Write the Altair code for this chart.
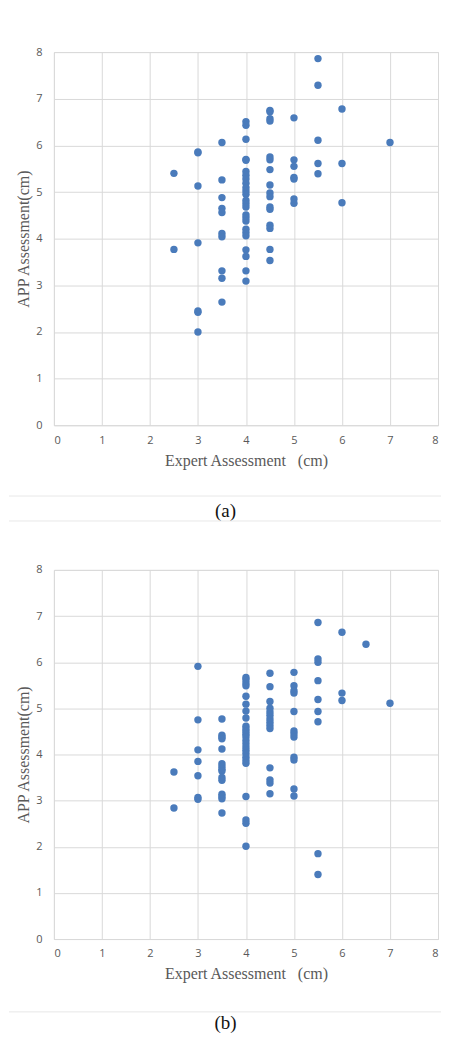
import altair as alt
import pandas as pd

# Panel (a): expert assessment levels and APP values read at each level
a_levels = [2.5, 3, 3.5, 4, 4.5, 5, 5.5, 6, 7]
a_app_2_5 = [5.40, 3.77]
a_app_3 = [5.86, 5.84, 5.13, 3.91, 2.45, 2.42, 2.00]
a_app_3_5 = [6.06, 5.26, 4.88, 4.65, 4.56, 4.11, 4.04, 3.31, 3.15, 2.64]
a_app_4 = [6.51, 6.43, 6.13, 5.70, 5.68, 5.44, 5.36, 5.28, 5.19, 5.09, 5.02, 4.95,
           4.82, 4.75, 4.68, 4.51, 4.45, 4.38, 4.20, 4.13, 4.06, 3.76, 3.62, 3.31, 3.09]
a_app_4_5 = [6.75, 6.72, 6.57, 6.52, 5.75, 5.69, 5.48, 5.15, 4.98, 4.90, 4.68, 4.63,
             4.29, 4.22, 3.77, 3.53]
a_app_5 = [6.59, 5.69, 5.55, 5.31, 5.28, 4.85, 4.76]
a_app_5_5 = [7.86, 7.29, 6.11, 5.61, 5.39]
a_app_6 = [6.78, 5.61, 4.77]
a_app_7 = [6.06]
a_groups = [a_app_2_5, a_app_3, a_app_3_5, a_app_4, a_app_4_5, a_app_5, a_app_5_5, a_app_6, a_app_7]

# Panel (b)
b_levels = [2.5, 3, 3.5, 4, 4.5, 5, 5.5, 6, 6.5, 7]
b_app_2_5 = [3.62, 2.84]
b_app_3 = [5.91, 4.75, 4.10, 3.85, 3.54, 3.07, 3.03]
b_app_3_5 = [4.77, 4.42, 4.38, 4.34, 4.12, 3.80, 3.74, 3.68, 3.64, 3.50, 3.44, 3.14,
             3.09, 3.04, 2.73]
b_app_4 = [5.67, 5.62, 5.55, 5.49, 5.26, 5.09, 4.94, 4.79, 4.61, 4.55, 4.50, 4.44,
           4.38, 4.30, 4.23, 4.16, 4.09, 4.02, 3.94, 3.87, 3.81, 3.09, 2.58, 2.51, 2.01]
b_app_4_5 = [5.76, 5.47, 5.15, 5.00, 4.92, 4.85, 4.77, 4.70, 4.63, 4.56, 3.71, 3.45,
             3.38, 3.15]
b_app_5 = [5.78, 5.49, 5.38, 5.33, 4.93, 4.51, 4.45, 4.38, 3.94, 3.88, 3.25, 3.10]
b_app_5_5 = [6.86, 6.07, 6.00, 5.60, 5.19, 4.93, 4.71, 1.85, 1.40]
b_app_6 = [6.65, 5.33, 5.17]
b_app_6_5 = [6.39]
b_app_7 = [5.11]
b_groups = [b_app_2_5, b_app_3, b_app_3_5, b_app_4, b_app_4_5, b_app_5, b_app_5_5,
            b_app_6, b_app_6_5, b_app_7]

tick_values = [0, 1, 2, 3, 4, 5, 6, 7, 8]
x_title = "Expert Assessment\u00a0\u00a0\u00a0(cm)"
y_title = "APP Assessment(cm)"

POINT = "#4a7bbb"
GRID = "#d9d9d9"
LABEL = "#595959"
W = 385


def table(levels, groups):
    rows = []
    for lv, vals in zip(levels, groups):
        for v in vals:
            rows.append({"expert": lv, "app": v})
    return pd.DataFrame(rows)


def panel(levels, groups, caption, h, line_off, cap_off, with_second_rule):
    df = table(levels, groups)
    xa = alt.Axis(values=tick_values, grid=True, gridColor=GRID, domain=False, ticks=False,
                  labelFont="Open Sans", labelFontSize=11, labelColor=LABEL, labelPadding=9,
                  title=x_title, titleFont="Liberation Serif", titleFontSize=16,
                  titleFontWeight="normal", titleColor=LABEL, titlePadding=7)
    ya = alt.Axis(values=tick_values, grid=True, gridColor=GRID, domain=False, ticks=False,
                  labelFont="Open Sans", labelFontSize=11, labelColor=LABEL, labelPadding=12,
                  title=y_title, titleFont="Liberation Serif", titleFontSize=16,
                  titleFontWeight="normal", titleColor=LABEL, titleX=-30, titleY=h / 2,
                  titleBaseline="middle", titleAngle=270)
    pts = alt.Chart(df).mark_circle(size=55, color=POINT, opacity=1).encode(
        x=alt.X("expert:Q", scale=alt.Scale(domain=[0, 8], nice=False), axis=xa),
        y=alt.Y("app:Q", scale=alt.Scale(domain=[0, 8], nice=False), axis=ya),
    )
    one = pd.DataFrame({"t": [caption]})
    rule1 = alt.Chart(one).mark_rule(color="#e8e8e8", strokeWidth=1).encode(
        x=alt.value(-45), x2=alt.value(W + 3), y=alt.value(h + line_off))
    cap = alt.Chart(one).mark_text(font="Liberation Serif", fontSize=19, color="#111111").encode(
        text="t:N", x=alt.value(172), y=alt.value(h + cap_off))
    layers = [pts, rule1, cap]
    if with_second_rule:
        rule2 = alt.Chart(one).mark_rule(color="#e8e8e8", strokeWidth=1).encode(
            x=alt.value(-45), x2=alt.value(W + 3), y=alt.value(h + line_off + 25))
        layers.append(rule2)
    return alt.layer(*layers).properties(width=W, height=h)


pa = panel(a_levels, a_groups, "(a)", 374, 71, 86, True)
pb = panel(b_levels, b_groups, "(b)", 370, 73, 84, False)

chart = alt.vconcat(pa, pb, spacing=145, bounds="flush").properties(
    padding={"left": 0, "top": 36, "right": 0, "bottom": 0}
).configure_view(stroke=GRID, strokeWidth=1).configure(background="white")

chart.save("out.html", embed_options={"renderer": "svg", "actions": False})
